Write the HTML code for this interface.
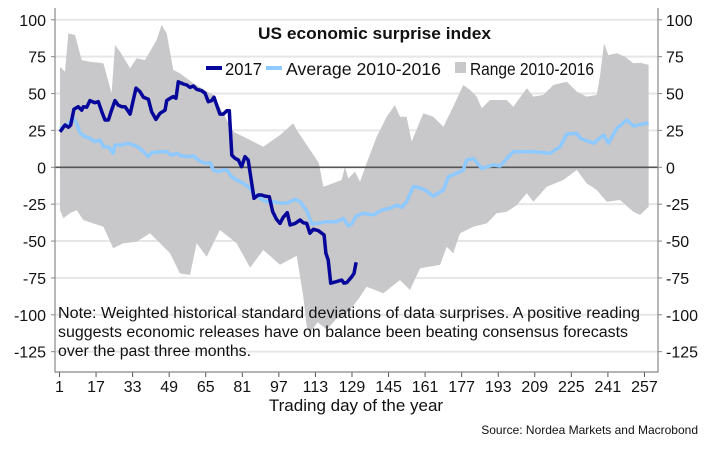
<!DOCTYPE html>
<html><head><meta charset="utf-8">
<style>
html,body{margin:0;padding:0;background:#fff;}
svg text{font-family:"Liberation Sans",sans-serif;}
</style></head>
<body>
<svg id="chart" width="710" height="448" viewBox="0 0 710 448" xmlns="http://www.w3.org/2000/svg">
<g id="grid"></g>
<path id="band" fill="#c8c7c9"></path>
<line id="zero" stroke="#555" stroke-width="1.6"></line>
<path id="avg" fill="none" stroke="#8ec9ff" stroke-width="3.5" stroke-linejoin="round"></path>
<path id="s2017" fill="none" stroke="#06079a" stroke-width="3.5" stroke-linejoin="round"></path>
<g id="axes"></g>
<text x="258" y="39" textLength="233" lengthAdjust="spacingAndGlyphs" font-size="17" font-weight="bold" fill="#111">US economic surprise index</text>
<g>
<g><line x1="206" y1="68" x2="222" y2="68" stroke="#06079a" stroke-width="4"/><text x="225" y="75" textLength="37" lengthAdjust="spacingAndGlyphs" font-size="17.5" fill="#111">2017</text></g>
<g><line x1="266" y1="68" x2="282" y2="68" stroke="#8ec9ff" stroke-width="4"/><text x="286" y="75" textLength="155" lengthAdjust="spacingAndGlyphs" font-size="17.5" fill="#111">Average 2010-2016</text></g>
<g><rect x="455" y="62" width="11" height="11" fill="#c8c7c9"/><text x="470" y="75" textLength="124" lengthAdjust="spacingAndGlyphs" font-size="17.5" fill="#111">Range 2010-2016</text></g>
</g>
<g font-size="15.5" fill="#111">
<text x="58" y="318" textLength="582" lengthAdjust="spacingAndGlyphs">Note: Weighted historical standard deviations of data surprises. A positive reading</text>
<text x="58" y="337" textLength="570" lengthAdjust="spacingAndGlyphs">suggests economic releases have on balance been beating consensus forecasts</text>
<text x="58" y="356" textLength="193" lengthAdjust="spacingAndGlyphs">over the past three months.</text>
</g>
<text x="356" y="411" text-anchor="middle" font-size="17" fill="#111">Trading day of the year</text>
<text x="698" y="434" text-anchor="end" font-size="12" fill="#111">Source: Nordea Markets and Macrobond</text>
</svg>
<script>
const xTicks=[1,17,33,49,65,81,97,113,129,145,161,177,193,209,225,241,257];
const yTicks=[100,75,50,25,0,-25,-50,-75,-100,-125];
const days2017=[1.2,3.4,4.9,5.9,7.3,9.2,10.7,11.4,12.9,14.3,16.5,18,19.5,20.9,22.4,23.8,25.3,26.7,28.2,29.7,31.9,33.3,34.5,36.2,37.7,39.9,41.3,43.2,45,47.2,47.9,49.4,50.8,52,53,55.2,56.7,58.1,59.6,61,63.2,64.7,66.1,67.6,68.6,69.8,71.2,72.7,74.2,75.3,76.4,77.8,79.3,80.7,82.2,83.6,85.1,86.1,88,89.5,90.9,92.8,94.3,96,97.5,98.9,100.7,101.9,104.1,106.3,107.7,109.2,110.6,112.1,114.3,116.8,117.6,118.6,119.7,122.3,124.5,125.5,126.7,128.9,129.9,130.8];
const vals2017=[24.1,28.7,27.1,28.7,39.3,41.1,38.8,41.1,40.7,45.2,43.8,44.5,37.7,32.1,32.1,38.8,45.2,42.2,41.1,41.1,36.1,45.6,53.6,51.3,47.5,46.1,37.7,32.5,36.6,38.8,45.2,46.8,47.9,46.8,58,56.5,55.8,54.2,55.1,52.9,51.9,50.2,44.5,45.2,47.5,42.2,36.1,36.1,38.4,38.4,8.3,6.1,4.9,0.4,7.2,4.9,-10.8,-21,-18.8,-18.8,-19.5,-19.9,-30.1,-35.3,-38,-33.9,-30.8,-39.1,-38,-35.7,-37.6,-38,-44.7,-42,-43,-45.9,-58.3,-62.8,-78.6,-77.5,-76.4,-78.6,-78.2,-74.2,-71.9,-64.4];
const daysAvg=[1.2,4.2,7.1,8.5,10,12.2,14.3,16.5,18.7,20.2,22.4,24.5,25.3,28.2,31.1,33.3,35.5,37.7,39.9,41.3,45,47.9,50.1,52.3,54.5,57.4,59.6,61.7,64.7,66.9,68.3,70.5,72.7,74.2,76.4,78.5,81.4,84.4,85.8,88.7,91.7,94.6,98.2,101.1,104.1,106.3,109.2,111.4,113.6,118,122.3,125.2,127.4,128.9,130.8,134,138.3,142,145.6,148.6,150.8,152.9,155.9,158,161,164.6,169,171.2,174.8,177.7,179.2,182.1,185.8,190.9,193.8,199.6,208.4,215.7,220.1,223,227.4,228.9,234.7,239.1,241.2,244.9,249.3,252.2,258.8];
const valsAvg=[26.4,28.7,33.2,29.8,23.1,20.7,19.7,17.4,18.5,14,14,9.5,15.1,15.1,16.3,15.1,13.6,10.6,7.2,9.9,10.6,10.6,8.3,9.5,7.7,7.2,7.7,4.9,2.7,3.1,-1.8,-3,-1.8,-1.8,-6.4,-8.6,-10.8,-14.2,-17.6,-21,-23.3,-23.3,-24.4,-24,-21.7,-23.3,-29.5,-38.4,-38,-36.9,-36.9,-34.6,-39.8,-38.4,-33,-31.2,-32.3,-29,-27.8,-25.6,-27.1,-23.3,-13,-13.6,-15.4,-19.5,-15.4,-6.4,-4.1,-1.8,5,6,-0.7,1.6,0.9,10.6,10.6,9.5,14,22.6,23,19.7,16.3,21.9,16.3,26.4,32.1,28,30.2];
const daysUpper=[1.2,3.4,4.9,7.8,10.7,14.3,20.2,23.8,25.3,27.5,31.9,34.8,38.4,43.5,45.7,47.9,50.8,53.7,59.6,68.3,74.2,77.1,84.4,90.2,97.5,103.3,104.8,110.6,114.5,116.5,120.8,124.5,125.9,127.4,130.3,132.5,135.4,139.8,144.2,147.8,150,152.9,155.1,160.2,164.6,169,173.3,177.7,180.7,183.6,185.8,189.4,196.7,199.6,205.5,208.4,212.7,217.1,223,227.4,231.7,236.1,237.5,239.3,241.2,244.9,248.5,252.1,255.1,258.8];
const valsUpper=[68.2,64.8,90.8,89.7,72.7,71.6,70.5,50.2,82.9,78.4,67.1,73.9,72.7,86.3,96.5,90.8,66,63.7,56.9,49,32.1,24.1,18.5,14,21.9,29.8,25.3,12,3,-13.2,-10.8,-8.6,0.4,-7.5,-3,-9.8,2.7,20.7,34.3,42.2,34.3,34.3,17.4,36.6,34.3,27.5,41.1,55.8,52.4,47.9,40,45.6,45.6,41.1,53.6,47.9,49,55.8,58,51.3,47.9,49,61.4,84.1,76.1,77.3,75,70.5,70.9,69.4];
const daysLower=[1.2,2.7,5.6,8.5,11.4,15.8,20.2,24.5,28.9,34.8,40.6,49.4,53.7,58.1,61,65.4,71.2,78.5,84.4,90.2,97.5,104.8,107.7,109.2,110.6,114,118,122,126,130,132.5,135.4,142.7,150,154.4,158.8,167.5,170.5,173.3,176.3,182.1,188,192.3,196.7,201.1,205.5,208.4,214.2,221.5,227.4,231.7,236.1,240.5,246.3,252.1,255.1,258.8];
const valsLower=[-29,-34.6,-31.2,-29,-35.7,-38,-40.3,-54.9,-51.5,-50.4,-44.7,-58.3,-71.9,-73,-51.5,-60.6,-42.5,-51.5,-68,-56.1,-66,-60,-87.7,-108,-112,-105,-110,-103,-100,-93,-87.7,-81,-85.4,-76.4,-83.2,-68.5,-66.2,-53.8,-58.3,-44.7,-40.3,-38,-31.2,-30.1,-25.6,-17.6,-23.3,-13.2,-8.6,-1.8,-10.8,-15.4,-23.3,-22.2,-30.1,-32.3,-26.7];

const PL=55,PR=658,PT=8,PB=372;
function xs(d){return 59.5+(d-1)*2.285;}
function ys(v){return 167.3-v*1.475;}
const NS='http://www.w3.org/2000/svg';
function mk(tag,attrs,parent){const e=document.createElementNS(NS,tag);for(const k in attrs)e.setAttribute(k,attrs[k]);parent.appendChild(e);return e;}
const grid=document.getElementById('grid'),axes=document.getElementById('axes');
yTicks.forEach(v=>{
  if(v!==0){const g=mk('line',{x1:PL,x2:PR,y1:ys(v),y2:ys(v),stroke:'#e6e6e6','stroke-width':2},grid);
  
  }
  const t1=mk('text',{x:46,y:ys(v)+6,'text-anchor':'end','font-size':16,fill:'#111'},axes);t1.textContent=v;
  
  
  const t2=mk('text',{x:666,y:ys(v)+6,'font-size':16,fill:'#111'},axes);t2.textContent=v;
  
  
  mk('line',{x1:PL-4,x2:PL,y1:ys(v),y2:ys(v),stroke:'#888','stroke-width':1},axes);
  mk('line',{x1:PR,x2:PR+4,y1:ys(v),y2:ys(v),stroke:'#888','stroke-width':1},axes);
});
xTicks.forEach(d=>{
  mk('line',{x1:xs(d),x2:xs(d),y1:PB,y2:PB+5,stroke:'#555','stroke-width':1},axes);
  const t=mk('text',{x:xs(d),y:392,'text-anchor':'middle','font-size':16,fill:'#111'},axes);t.textContent=d;
  
  
});
mk('path',{d:`M${PL},${PT}V${PB}H${PR}V${PT}`,fill:'none',stroke:'#888','stroke-width':1.2},axes);
const z=document.getElementById('zero');z.setAttribute('x1',PL);z.setAttribute('x2',PR);z.setAttribute('y1',ys(0));z.setAttribute('y2',ys(0));
function line(ds,vs){return ds.map((d,i)=>(i?'L':'M')+xs(d).toFixed(1)+','+ys(vs[i]).toFixed(1)).join('');}
let bp=line(daysUpper,valsUpper);
for(let i=daysLower.length-1;i>=0;i--)bp+='L'+xs(daysLower[i]).toFixed(1)+','+ys(valsLower[i]).toFixed(1);
document.getElementById('band').setAttribute('d',bp+'Z');
document.getElementById('avg').setAttribute('d',line(daysAvg,valsAvg));
document.getElementById('s2017').setAttribute('d',line(days2017,vals2017));
</script>
</body></html>
